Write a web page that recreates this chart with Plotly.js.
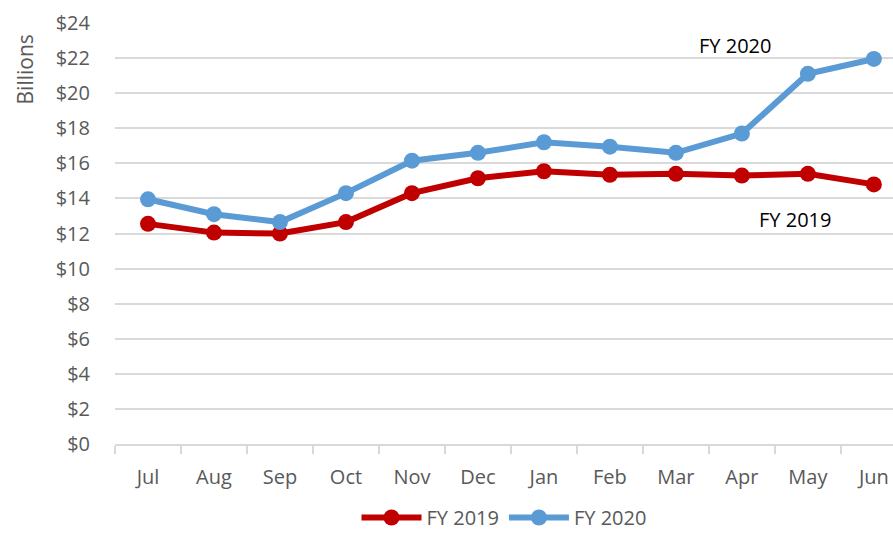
<!DOCTYPE html>
<html>
<head>
<meta charset="utf-8">
<script src="https://cdn.plot.ly/plotly-3.0.1.min.js"></script>
<style>
  body { margin: 0; background: #fff; }
  #chart { width: 893px; height: 537px; }
</style>
</head>
<body>
<div id="chart"></div>
<script>
// monthly values, billions of dollars
let months = ["Jul", "Aug", "Sep", "Oct", "Nov", "Dec", "Jan", "Feb", "Mar", "Apr", "May", "Jun"];
let fy2019 = [12.55, 12.05, 12.0, 12.65, 14.3, 15.15, 15.55, 15.35, 15.4, 15.3, 15.4, 14.8];
let fy2020 = [13.95, 13.1, 12.65, 14.3, 16.15, 16.6, 17.2, 16.95, 16.6, 17.7, 21.1, 21.95];
let yTicks = [0, 2, 4, 6, 8, 10, 12, 14, 16, 18, 20, 22, 24];

let grey = "#595959";
let font = "Open Sans, Liberation Sans, sans-serif";

let data = [
  {
    x: months, y: fy2019, name: "FY 2019",
    mode: "lines+markers", type: "scatter",
    line: { color: "#c00000", width: 6 },
    marker: { color: "#c00000", size: 16 }
  },
  {
    x: months, y: fy2020, name: "FY 2020",
    mode: "lines+markers", type: "scatter",
    line: { color: "#5b9bd5", width: 6 },
    marker: { color: "#5b9bd5", size: 16 }
  }
];

let layout = {
  width: 893,
  height: 537,
  margin: { l: 115, r: 0, t: 23, b: 89 },
  paper_bgcolor: "#fff",
  plot_bgcolor: "#fff",
  font: { family: font, color: grey, size: 20 },
  showlegend: true,
  legend: {
    orientation: "h", x: 0.5, xanchor: "center", y: -0.175, yanchor: "middle",
    font: { size: 20, color: grey }, itemwidth: 60
  },
  xaxis: {
    type: "category",
    range: [-0.5, 11.29],
    tickson: "boundaries",
    ticks: "outside", ticklen: 8, tickwidth: 2, tickcolor: "#d9d9d9",
    showline: true, linecolor: "#d9d9d9", linewidth: 2,
    showgrid: false,
    ticklabelstandoff: 14,
    tickfont: { size: 20, color: grey }
  },
  yaxis: {
    range: [0, 24],
    tickvals: yTicks,
    ticktext: yTicks.map(v => "$" + v),
    showgrid: true, gridcolor: "#d9d9d9", gridwidth: 2,
    zeroline: false, showline: false,
    ticks: "",
    ticklabelstandoff: 24,
    tickfont: { size: 20, color: grey }
  },
  annotations: [
    { text: "Billions", xref: "paper", yref: "paper", x: -0.116, y: 0.889,
      xanchor: "center", yanchor: "middle",
      textangle: -90, showarrow: false, font: { size: 21, color: grey } },
    { text: "FY 2020", xref: "paper", yref: "paper", x: 0.797, y: 0.946,
      xanchor: "center", yanchor: "middle",
      showarrow: false, font: { size: 20, color: "#000" } },
    { text: "FY 2019", xref: "paper", yref: "paper", x: 0.874, y: 0.534,
      xanchor: "center", yanchor: "middle",
      showarrow: false, font: { size: 20, color: "#000" } }
  ]
};

Plotly.newPlot("chart", data, layout, { displayModeBar: false, staticPlot: true });
</script>
</body>
</html>
